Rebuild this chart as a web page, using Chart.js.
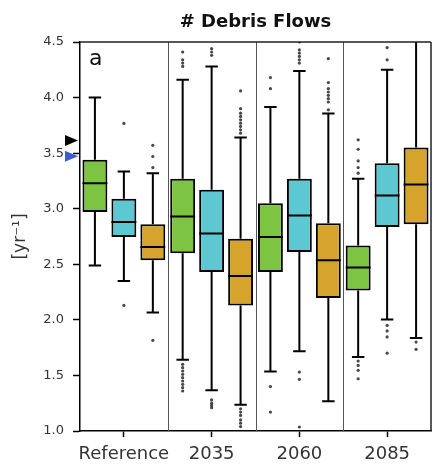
<!DOCTYPE html>
<html>
<head>
<meta charset="utf-8">
<script src="https://cdn.jsdelivr.net/npm/chart.js@4"></script>
<style>
html,body{margin:0;padding:0;background:#fff;}
#wrap{width:432px;height:466px;position:relative;}
</style>
</head>
<body>
<div id="wrap"><canvas id="c" width="432" height="466"></canvas></div>
<script>
const categories = ['Reference', '2035', '2060', '2085'];
const yTicks = [1.0, 1.5, 2.0, 2.5, 3.0, 3.5, 4.0, 4.5];
const seriesColors = ['#7dc443', '#5ec8d2', '#d6a42c'];
// [whisker low, q1, median, q3, whisker high]
const greenStats = [[2.49, 2.97, 3.23, 3.44, 4.00], [1.64, 2.60, 2.93, 3.27, 4.16], [1.535, 2.43, 2.746, 3.05, 3.915], [1.665, 2.265, 2.47, 2.67, 3.27]];
const cyanStats = [[2.35, 2.745, 2.88, 3.09, 3.335], [1.366, 2.43, 2.777, 3.17, 4.28], [1.717, 2.61, 2.94, 3.27, 4.24], [2.003, 2.836, 3.12, 3.41, 4.25]];
const orangeStats = [[2.066, 2.536, 2.656, 2.86, 3.32], [1.237, 2.13, 2.395, 2.73, 3.64], [1.267, 2.197, 2.536, 2.87, 3.857], [1.837, 2.86, 3.218, 3.55, 4.62]];
const greenOutliers = [[], [4.41, 4.34, 4.31, 4.28, 1.60, 1.57, 1.54, 1.51, 1.48, 1.45, 1.42, 1.39, 1.36], [4.18, 4.08, 1.40, 1.17], [3.62, 3.535, 3.43, 3.37, 3.32, 1.63, 1.59, 1.546, 1.47]];
const cyanOutliers = [[3.767, 2.13], [4.44, 4.41, 4.38, 1.28, 1.25, 1.23, 1.21], [4.50, 4.43, 4.40, 4.37, 4.34, 4.31, 1.53, 1.465, 1.036], [4.45, 4.34, 1.95, 1.90, 1.846, 1.70]];
const orangeOutliers = [[3.57, 3.47, 3.37, 1.816], [4.06, 3.90, 3.86, 3.83, 3.80, 3.77, 3.74, 3.71, 3.68, 1.20, 1.17, 1.14, 1.10, 1.07, 1.04], [4.35, 4.135, 4.08, 4.05, 4.02, 3.99, 3.96, 3.89], [1.80, 1.735]];
const referenceMarkers = [3.613, 3.473];
const markerColors = ['#000000', '#3b5fc8'];

const allStats = [greenStats, cyanStats, orangeStats];
const allOutliers = [greenOutliers, cyanOutliers, orangeOutliers];

Chart.defaults.font.family = 'DejaVu Sans';

const boxPlugin = {
  id: 'boxExtras',
  beforeDatasetsDraw(chart) {
    const {ctx, chartArea: a, scales: {x}} = chart;
    ctx.save();
    ctx.strokeStyle = '#555';
    ctx.lineWidth = 1;
    for (let i = 0; i < categories.length - 1; i++) {
      const px = Math.round((x.getPixelForValue(i) + x.getPixelForValue(i + 1)) / 2) + 0.5;
      ctx.beginPath(); ctx.moveTo(px, a.top); ctx.lineTo(px, a.bottom); ctx.stroke();
    }
    ctx.restore();
  },
  afterDatasetsDraw(chart) {
    const {ctx, chartArea: a, scales: {y}} = chart;
    ctx.save();
    ctx.beginPath(); ctx.rect(a.left, a.top, a.right - a.left, a.bottom - a.top); ctx.clip();
    allStats.forEach((stats, si) => {
      const meta = chart.getDatasetMeta(si);
      stats.forEach((s, ci) => {
        const bar = meta.data[ci];
        const cx = bar.x, w = bar.width;
        const [lo, q1, med, q3, hi] = s.map(v => y.getPixelForValue(v));
        ctx.strokeStyle = '#000';
        ctx.lineWidth = 2;
        ctx.beginPath();
        ctx.moveTo(cx, q3); ctx.lineTo(cx, hi);
        ctx.moveTo(cx, q1); ctx.lineTo(cx, lo);
        ctx.moveTo(cx - w / 4, hi); ctx.lineTo(cx + w / 4, hi);
        ctx.moveTo(cx - w / 4, lo); ctx.lineTo(cx + w / 4, lo);
        ctx.moveTo(cx - w / 2, med); ctx.lineTo(cx + w / 2, med);
        ctx.stroke();
        ctx.fillStyle = 'rgba(40,40,40,0.85)';
        allOutliers[si][ci].forEach(v => {
          ctx.beginPath(); ctx.arc(cx, y.getPixelForValue(v), 1.6, 0, Math.PI * 2); ctx.fill();
        });
      });
    });
    ctx.restore();
  },
  afterDraw(chart) {
    const {ctx, chartArea: a, scales: {y}} = chart;
    ctx.save();
    ctx.strokeStyle = '#222';
    ctx.lineWidth = 1.5;
    ctx.beginPath();
    ctx.moveTo(a.left, a.top); ctx.lineTo(a.right, a.top);
    ctx.moveTo(a.right, a.top); ctx.lineTo(a.right, a.bottom);
    ctx.stroke();
    referenceMarkers.forEach((v, i) => {
      const py = y.getPixelForValue(v);
      ctx.fillStyle = markerColors[i];
      ctx.beginPath();
      ctx.moveTo(a.left - 2, py); ctx.lineTo(a.left - 15, py - 5.5); ctx.lineTo(a.left - 15, py + 5.5);
      ctx.closePath(); ctx.fill();
    });
    ctx.fillStyle = '#111';
    ctx.font = 'bold 18px "DejaVu Sans"';
    ctx.textAlign = 'center';
    ctx.textBaseline = 'alphabetic';
    ctx.fillText('# Debris Flows', (a.left + a.right) / 2, 27);
    ctx.font = '22px "DejaVu Sans"';
    ctx.textAlign = 'left';
    ctx.fillText('a', a.left + 9, 65);
    ctx.save();
    ctx.translate(21, (a.top + a.bottom) / 2);
    ctx.rotate(-Math.PI / 2);
    ctx.textAlign = 'center';
    ctx.textBaseline = 'middle';
    ctx.fillStyle = '#333';
    ctx.font = '17px "DejaVu Sans"';
    ctx.fillText('[yr\u207B\u00B9]', 0, 0);
    ctx.restore();
    ctx.restore();
  }
};

new Chart(document.getElementById('c'), {
  type: 'bar',
  data: {
    labels: categories,
    datasets: allStats.map((stats, si) => ({
      data: stats.map(s => [s[1], s[3]]),
      backgroundColor: seriesColors[si],
      borderColor: '#000',
      borderWidth: 2,
      borderSkipped: false,
      categoryPercentage: 0.99,
      barPercentage: 0.86
    }))
  },
  options: {
    responsive: false,
    animation: false,
    events: [],
    layout: {padding: {top: 42, right: 1, left: 0, bottom: 0}},
    plugins: {legend: {display: false}, tooltip: {enabled: false}, title: {display: false}},
    scales: {
      x: {
        grid: {display: true, drawOnChartArea: false, offset: false, tickLength: 6, color: '#000', tickWidth: 1.5},
        border: {display: true, color: '#000', width: 1.5},
        ticks: {color: '#333', font: {size: 18}, padding: 7, maxRotation: 0, autoSkip: false},
        afterFit(s) { s.height = 35; }
      },
      y: {
        min: 1, max: 4.5,
        afterBuildTicks(s) { s.ticks = yTicks.map(v => ({value: v})); },
        grid: {display: true, drawOnChartArea: false, tickLength: 7, color: '#000', tickWidth: 1.5},
        border: {display: true, color: '#000', width: 1.5},
        ticks: {color: '#333', font: {size: 13}, padding: 9, callback: v => v.toFixed(1)},
        afterFit(s) { s.width = 80; }
      }
    }
  },
  plugins: [boxPlugin]
});
</script>
</body>
</html>
